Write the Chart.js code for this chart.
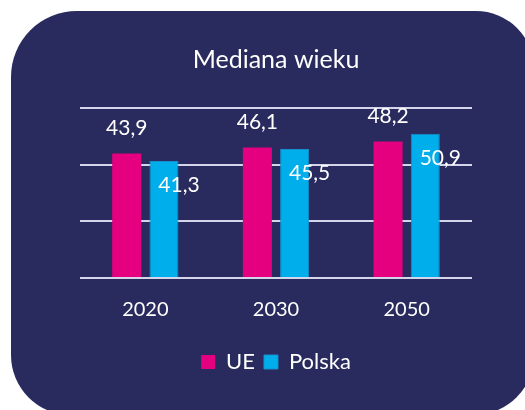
<!DOCTYPE html>
<html>
<head>
<meta charset="utf-8">
<script src="https://cdn.jsdelivr.net/npm/chart.js@4"></script>
<style>
  html, body { margin: 0; padding: 0; background: #ffffff; }
  #wrap { position: relative; width: 525px; height: 410px; overflow: hidden; }
  #panel {
    position: absolute; left: 11px; top: 11px; width: 523px; height: 404px;
    background: #292a5e; border-radius: 66px 58px 60px 60px;
  }
  #medianChart { position: absolute; left: 0; top: 0; }
</style>
</head>
<body>
<div id="wrap">
  <div id="panel"></div>
  <canvas id="medianChart" width="525" height="410"></canvas>
</div>
<script>
const years = ['2020', '2030', '2050'];
const ueValues = [43.9, 46.1, 48.2];
const polskaValues = [41.3, 45.5, 50.9];
const seriesNames = ['UE', 'Polska'];
const chartTitle = 'Mediana wieku';

const FONT = 'Lato, "Open Sans", sans-serif';

function formatValue(v) {
    return v.toFixed(1).replace('.', ',');
}

// value labels: UE above the bar, Polska inside and shifted right
const valueLabels = {
    id: 'valueLabels',
    afterDatasetsDraw(chart) {
        const ctx = chart.ctx;
        ctx.save();
        ctx.font = '21px ' + FONT;
        ctx.fillStyle = '#ffffff';
        ctx.textAlign = 'center';
        ctx.textBaseline = 'middle';
        chart.data.datasets.forEach((ds, di) => {
            const meta = chart.getDatasetMeta(di);
            meta.data.forEach((bar, i) => {
                const text = formatValue(ds.data[i]);
                if (di === 0) {
                    ctx.fillText(text, bar.x, bar.y - 25);
                } else {
                    ctx.fillText(text, bar.x + 15, bar.y + 24);
                }
            });
        });
        ctx.restore();
    }
};

const ctx = document.getElementById('medianChart').getContext('2d');

new Chart(ctx, {
    type: 'bar',
    data: {
        labels: years,
        datasets: [{
            label: seriesNames[0],
            data: ueValues,
            backgroundColor: '#e4007e',
            borderWidth: 0,
            categoryPercentage: 0.57,
            barPercentage: 0.78
        }, {
            label: seriesNames[1],
            data: polskaValues,
            backgroundColor: '#00aeeb',
            borderColor: '#1690cc',
            borderWidth: 1,
            categoryPercentage: 0.57,
            barPercentage: 0.78
        }]
    },
    options: {
        responsive: false,
        devicePixelRatio: 1,
        animation: false,
        layout: {
            padding: { left: 80, right: 53, top: 0, bottom: 27 }
        },
        scales: {
            x: {
                grid: { display: false, drawTicks: false },
                border: { display: false },
                ticks: {
                    color: '#ffffff',
                    font: { family: FONT, size: 20 },
                    padding: 20
                }
            },
            y: {
                min: 0,
                max: 60,
                ticks: { display: false, stepSize: 20 },
                border: { display: false },
                grid: {
                    color: '#d4d4ea',
                    lineWidth: 2,
                    drawTicks: false
                }
            }
        },
        plugins: {
            title: {
                display: true,
                text: chartTitle,
                color: '#ffffff',
                font: { family: FONT, size: 25, weight: 'normal' },
                padding: { top: 45, bottom: 33 }
            },
            legend: {
                position: 'bottom',
                labels: {
                    color: '#ffffff',
                    font: { family: FONT, size: 22 },
                    boxWidth: 14,
                    boxHeight: 14,
                    padding: 9
                }
            },
            tooltip: { enabled: false }
        }
    },
    plugins: [valueLabels]
});
</script>
</body>
</html>
